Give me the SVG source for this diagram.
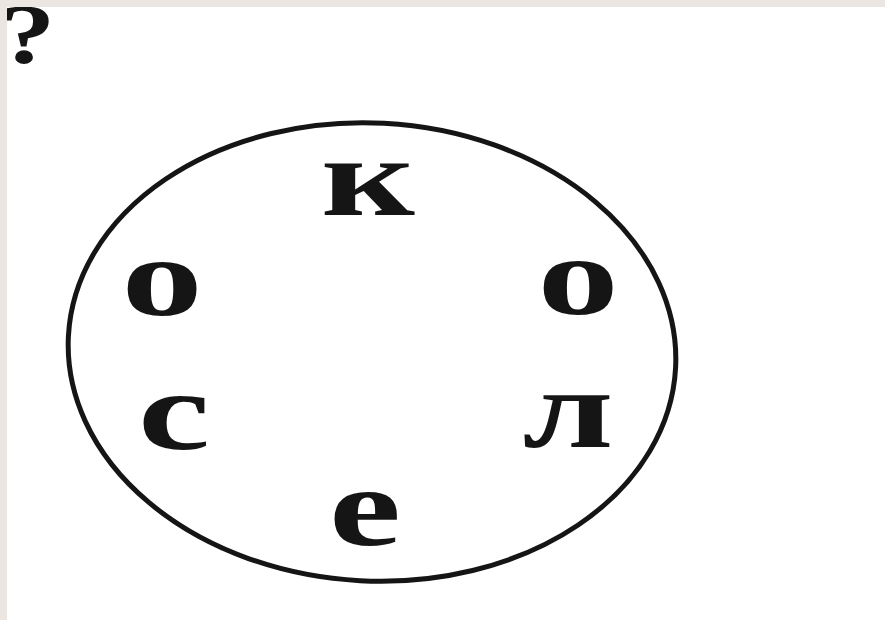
<svg xmlns="http://www.w3.org/2000/svg" width="885" height="620" viewBox="0 0 885 620">
<style>
.l{font-family:"Liberation Serif","DejaVu Serif",serif;font-weight:bold;font-size:112px;fill:#151515;text-anchor:middle}
</style>
<rect width="885" height="620" fill="#ffffff"/>
<text transform="translate(0 63) scale(1.3 1)" style="font-family:'Liberation Serif',serif;font-weight:bold;font-size:85px;fill:#151515">?</text>
<rect width="885" height="7" fill="#ebe6e2"/>
<rect width="7" height="620" fill="#ebe6e2"/>
<g id="ring">
<ellipse cx="372" cy="352" rx="304" ry="229" fill="none" stroke="#151515" stroke-width="5" transform="rotate(3 372 352)"/>
</g>
<g id="letters">
<text class="l" transform="translate(368 215) scale(1.45 1)">к</text>
<text class="l" transform="translate(162 315) scale(1.45 1)">о</text>
<text class="l" transform="translate(578 314) scale(1.45 1)">о</text>
<text class="l" transform="translate(174 449) scale(1.45 1)">с</text>
<text class="l" transform="translate(568 447) scale(1.45 1)">л</text>
<text class="l" transform="translate(365 545) scale(1.45 1)">е</text>
</g>
</svg>
